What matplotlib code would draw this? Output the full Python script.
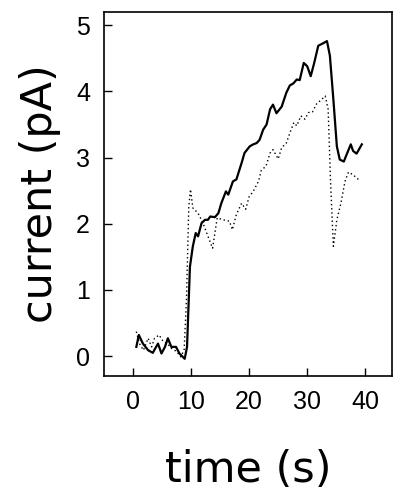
import numpy as np
import matplotlib.pyplot as plt

# solid trace
t_solid = [0.57, 1.0, 1.7, 2.6, 3.4, 4.3, 4.9, 5.5, 6.0, 6.6, 7.4, 8.0, 8.9, 9.3, 9.8,
           10.3, 10.8, 11.2, 11.8, 12.4, 12.9, 13.3, 14.1, 14.7, 15.2, 16.0, 16.4, 17.2,
           17.8, 18.7, 19.2, 20.1, 20.7, 21.3, 21.8, 22.4, 23.0, 23.6, 24.1, 24.7, 25.6,
           26.4, 27.0, 27.6, 28.2, 28.7, 29.4, 30.0, 30.6, 31.2, 31.9, 32.8, 33.4, 33.9,
           34.5, 35.1, 35.6, 36.3, 36.8, 37.5, 37.9, 38.5, 39.4]
i_solid = [0.14, 0.32, 0.19, 0.09, 0.05, 0.19, 0.04, 0.14, 0.27, 0.14, 0.14, 0.04, -0.04,
           0.14, 1.35, 1.66, 1.86, 1.81, 2.01, 2.06, 2.06, 2.11, 2.10, 2.16, 2.31, 2.49,
           2.44, 2.64, 2.67, 2.92, 3.07, 3.17, 3.20, 3.22, 3.27, 3.42, 3.50, 3.73, 3.80,
           3.67, 3.77, 3.98, 4.09, 4.12, 4.18, 4.17, 4.43, 4.38, 4.23, 4.43, 4.69, 4.73,
           4.76, 4.54, 3.88, 3.17, 2.97, 2.94, 3.05, 3.20, 3.10, 3.06, 3.20]

# dotted trace
t_dot = [0.57, 1.1, 1.8, 2.6, 3.2, 3.7, 4.5, 5.2, 5.9, 6.6, 7.5, 8.2, 8.8, 9.2, 9.6, 9.9,
         10.3, 11.2, 12.0, 12.6, 13.7, 14.5, 15.5, 16.6, 17.1, 17.8, 18.7, 19.4, 20.0,
         20.7, 21.6, 22.1, 22.9, 23.6, 24.1, 25.0, 25.6, 26.4, 27.0, 27.7, 28.2, 28.9,
         29.6, 30.2, 30.9, 31.6, 32.5, 33.1, 33.6, 34.0, 34.5, 35.1, 35.8, 36.5, 37.1,
         37.9, 38.8]
i_dot = [0.37, 0.19, 0.09, 0.27, 0.14, 0.27, 0.32, 0.22, 0.19, 0.12, 0.07, -0.01, 0.09,
         0.85, 2.26, 2.52, 2.24, 2.16, 2.02, 1.88, 1.63, 2.09, 2.06, 2.04, 1.91, 2.14,
         2.31, 2.22, 2.41, 2.49, 2.64, 2.81, 2.87, 3.07, 3.12, 2.98, 3.15, 3.22, 3.37,
         3.53, 3.48, 3.63, 3.58, 3.68, 3.69, 3.81, 3.88, 3.93, 3.73, 2.67, 1.66, 2.06,
         2.31, 2.64, 2.78, 2.74, 2.67]

x_ticks = [0, 10, 20, 30, 40]
y_ticks = [0, 1, 2, 3, 4, 5]

plt.rcParams['font.family'] = ['Liberation Sans', 'DejaVu Sans']

fig = plt.figure(figsize=(3.93, 4.91), dpi=100)
ax = fig.add_axes([0.2646, 0.2342, 0.7329, 0.7414])

ax.plot(t_dot, i_dot, color='black', lw=1.0, linestyle=(0, (1, 2)))
ax.plot(t_solid, i_solid, color='black', lw=1.6)

ax.set_xlim(-5, 44.6)
ax.set_ylim(-0.3, 5.2)
ax.set_xticks(x_ticks)
ax.set_yticks(y_ticks)
ax.tick_params(direction='in', length=6, width=1, labelsize=18, pad=10)
for s in ax.spines.values():
    s.set_linewidth(1.2)

# 軸ラベル（幅を合わせるため DejaVu Sans）
ax.set_xlabel('time (s)', fontsize=31, family='DejaVu Sans', va='center')
ax.set_ylabel('current (pA)', fontsize=31, family='DejaVu Sans', va='center', ha='center')
ax.xaxis.set_label_coords(0.5, -0.258)
ax.yaxis.set_label_coords(-0.222, 0.5)

fig.savefig('out.png', dpi=100)
